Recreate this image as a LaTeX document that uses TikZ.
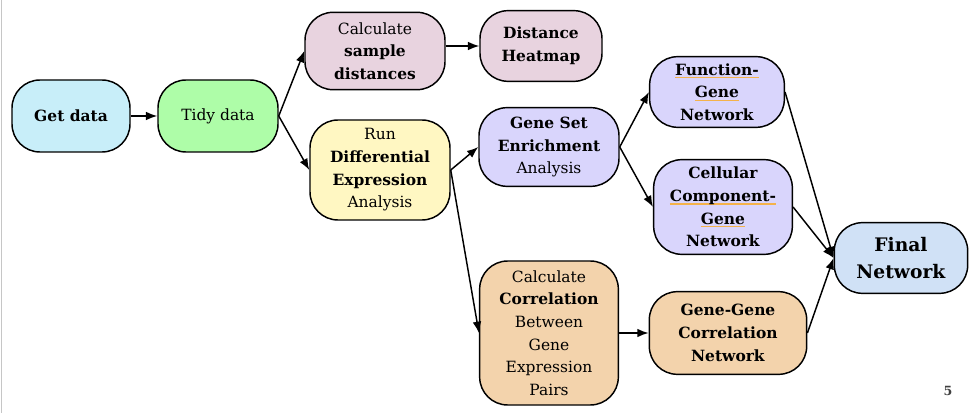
\documentclass[tikz,border=0pt]{standalone}
\usepackage{fontspec}
\setmainfont{DejaVu Serif}
\usetikzlibrary{arrows.meta}
\definecolor{getcol}{HTML}{C8EEF9}
\definecolor{tidycol}{HTML}{AEFDA8}
\definecolor{distcol}{HTML}{E8D3DF}
\definecolor{decol}{HTML}{FFF7C2}
\definecolor{gseacol}{HTML}{D9D5FC}
\definecolor{finalcol}{HTML}{D0E1F6}
\definecolor{corcol}{HTML}{F3D3AC}
\definecolor{ulcol}{HTML}{F4B24A}
\newcommand\orline[1]{\setbox0\hbox{#1}\rlap{\textcolor{ulcol}{\rule[-2.4pt]{\wd0}{1pt}}}\box0}

\begin{document}
\begin{tikzpicture}[x=0.75pt, y=-0.75pt,
    font=\fontsize{11.6}{17}\selectfont,
    box/.style = {shape=rectangle, rounded corners=21pt, draw, line width=1.1pt,
    align=center, inner sep=1pt},
    flow/.style = {-{Latex[length=8.5pt,width=6.5pt]}, line width=1.1pt}]
  \useasboundingbox (0,0) rectangle (975,413);
  \draw[gray!45, line width=0.8pt] (1.5,0) -- (1.5,413);

  \node[box, fill=getcol, minimum width=88.5pt, minimum height=54pt] (getdata) at (71,116)
    {\textbf{Get data}};
  \node[box, fill=tidycol, minimum width=90pt, minimum height=54pt] (tidy) at (218,116)
    {Tidy data};
  \node[box, fill=distcol, minimum width=105pt, minimum height=58pt] (calcdist) at (375,51)
    {Calculate\\\textbf{sample}\\\textbf{distances}};
  \node[box, fill=distcol, minimum width=91.5pt, minimum height=53pt] (heatmap) at (541,46)
    {\textbf{Distance}\\\textbf{Heatmap}};
  \node[box, fill=decol, minimum width=105pt, minimum height=75pt] (runde) at (380,170)
    {Run\\\textbf{Differential}\\\textbf{Expression}\\Analysis};
  \node[box, fill=gseacol, minimum width=105pt, minimum height=59pt] (gsea) at (549,147)
    {\textbf{Gene Set}\\\textbf{Enrichment}\\Analysis};
  \node[box, fill=gseacol, minimum width=101pt, minimum height=53pt] (funcgene) at (717,92)
    {\textbf{\orline{Function-}}\\\textbf{\orline{Gene}}\\\textbf{Network}};
  \node[box, fill=gseacol, minimum width=104pt, minimum height=71pt] (cellgene) at (723,207)
    {\textbf{Cellular}\\\textbf{\orline{Component-}}\\\textbf{\orline{Gene}}\\\textbf{Network}};
  \node[box, fill=finalcol, minimum width=100pt, minimum height=53pt,
    font=\fontsize{14}{20}\selectfont] (final) at (901,258)
    {\textbf{Final}\\\textbf{Network}};
  \node[box, fill=corcol, minimum width=104pt, minimum height=108pt] (calccor) at (549,333)
    {Calculate\\\textbf{Correlation}\\Between\\Gene\\Expression\\Pairs};
  \node[box, fill=corcol, minimum width=118pt, minimum height=62pt] (genegene) at (728,333)
    {\textbf{Gene-Gene}\\\textbf{Correlation}\\\textbf{Network}};
  \node[font=\fontsize{9.5}{11}\selectfont\bfseries, text=black!75] (pagenum) at (948,391) {5};

  % connectors
  \draw[flow] (getdata) -- (tidy);
  \draw[flow] (tidy.east) -- (calcdist.west);
  \draw[flow] (tidy.east) -- (runde.west);
  \draw[flow] (calcdist.east |- heatmap.west) -- (heatmap.west);
  \draw[flow] (runde.east) -- (gsea.west);
  \draw[flow] (runde.east) -- (calccor.west);
  \draw[flow] (gsea.east) -- (funcgene.west);
  \draw[flow] (gsea.east) -- (cellgene.west);
  \draw[flow] (funcgene.east) -- (final.west);
  \draw[flow] (cellgene.east) -- (final.west);
  \draw[flow] (genegene.east) -- (final.west);
  \draw[flow] (calccor) -- (genegene);
\end{tikzpicture}
\end{document}
